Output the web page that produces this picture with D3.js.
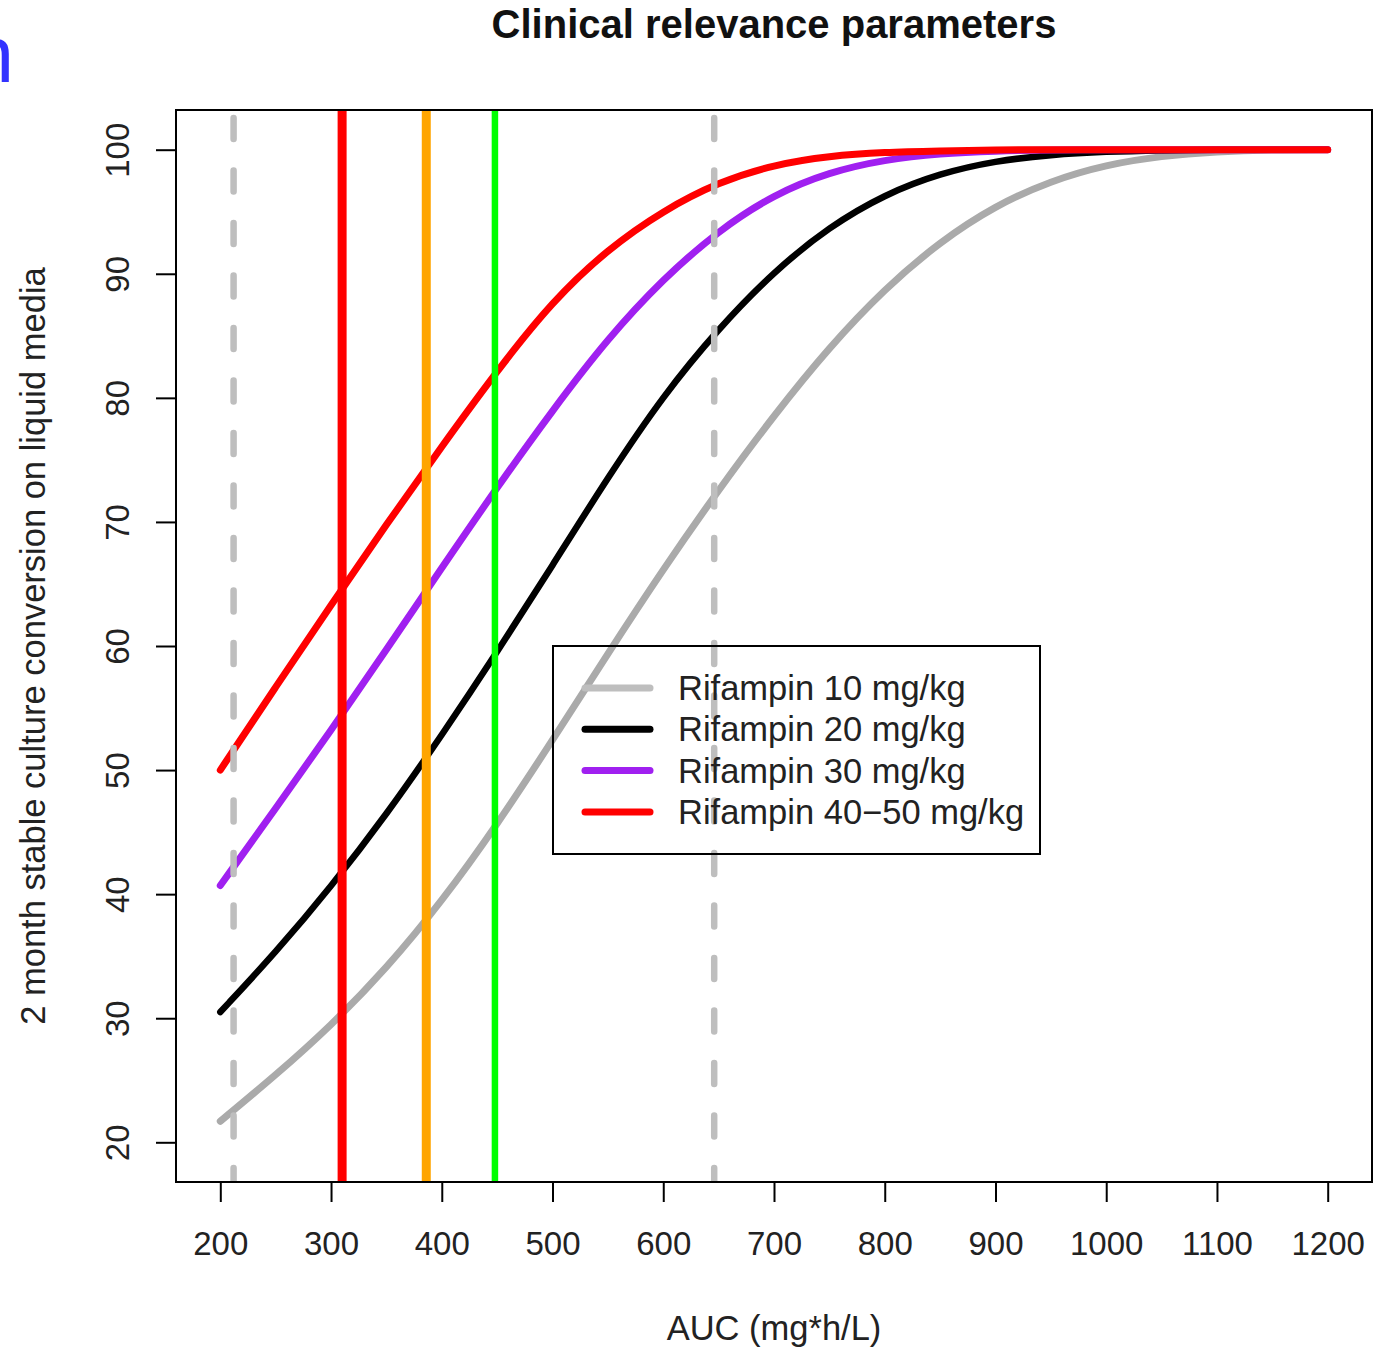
<!DOCTYPE html>
<html>
<head>
<meta charset="utf-8">
<script src="https://cdn.jsdelivr.net/npm/d3@7"></script>
<style>
  body { margin: 0; background: #fff; }
  svg { display: block; font-family: "Liberation Sans", Arial, sans-serif; }
</style>
</head>
<body>
<svg id="chart" width="1399" height="1349"></svg>
<script>
// data
var auc = [200, 250, 300, 350, 400, 450, 500, 550, 600, 650, 700, 750, 800, 850, 900, 950, 1000, 1050, 1100, 1150, 1200];
var rif10 = [21.7, 25.4, 29.4, 34.0, 39.4, 45.6, 52.4, 59.4, 66.2, 72.6, 78.6, 84.1, 88.8, 92.6, 95.5, 97.5, 98.8, 99.5, 99.85, 100, 100];
var rif20 = [30.5, 35.3, 40.6, 46.4, 52.8, 59.5, 66.5, 73.6, 80.2, 85.6, 90.2, 93.8, 96.4, 98.1, 99.1, 99.6, 99.85, 99.95, 100, 100, 100];
var rif30 = [40.7, 46.9, 53.2, 59.7, 66.3, 72.8, 79.0, 84.8, 89.6, 93.5, 96.4, 98.2, 99.2, 99.7, 99.9, 100, 100, 100, 100, 100, 100];
var rif4050 = [50.0, 56.7, 63.3, 69.8, 76.1, 82.2, 87.8, 92.0, 95.1, 97.4, 98.8, 99.5, 99.8, 99.9, 100, 100, 100, 100, 100, 100, 100];
var seriesNames = ["Rifampin 10 mg/kg", "Rifampin 20 mg/kg", "Rifampin 30 mg/kg", "Rifampin 40\u221250 mg/kg"];
var dashedAuc = [212, 646];
var solidAuc = [310, 386, 448];
var xTicks = [200, 300, 400, 500, 600, 700, 800, 900, 1000, 1100, 1200];
var yTicks = [20, 30, 40, 50, 60, 70, 80, 90, 100];

var svg = d3.select("#chart");
var plot = { left: 176, right: 1372, top: 110, bottom: 1182 };

// R style 4% padding around xlim / ylim
var x = d3.scaleLinear().domain([160, 1240]).range([plot.left, plot.right]);
var y = d3.scaleLinear().domain([16.8, 103.2]).range([plot.bottom, plot.top]);

var curveColors = ["#aaaaaa", "#000000", "#a020f0", "#ff0000"];
var legendColors = ["#bebebe", "#000000", "#a020f0", "#ff0000"];
var solidColors = ["#ff0000", "#ffa500", "#00ff00"];
var solidWidths = [9, 9, 6.5];

// stray blue glyph at the top left edge
svg.append("text")
    .attr("x", 14).attr("y", 82)
    .attr("text-anchor", "end")
    .attr("font-size", 80)
    .attr("fill", "#3333ff")
    .text("n");

svg.append("text")
    .attr("x", (plot.left + plot.right) / 2).attr("y", 38)
    .attr("text-anchor", "middle")
    .attr("font-size", 40)
    .attr("font-weight", "bold")
    .attr("fill", "#111")
    .text("Clinical relevance parameters");

svg.append("clipPath").attr("id", "plotClip")
    .append("rect")
    .attr("x", plot.left).attr("y", plot.top)
    .attr("width", plot.right - plot.left).attr("height", plot.bottom - plot.top);

var g = svg.append("g").attr("clip-path", "url(#plotClip)");

var line = d3.line()
    .x(function (d) { return x(d[0]); })
    .y(function (d) { return y(d[1]); })
    .curve(d3.curveBasis);

[rif10, rif20, rif30, rif4050].forEach(function (vals, i) {
    g.append("path")
        .attr("d", line(auc.map(function (a, j) { return [a, vals[j]]; })))
        .attr("fill", "none")
        .attr("stroke", curveColors[i])
        .attr("stroke-width", i == 1 ? 6.5 : 7)
        .attr("stroke-linecap", "round")
        .attr("stroke-linejoin", "round");
});

// dashed reference lines
dashedAuc.forEach(function (a) {
    g.append("line")
        .attr("x1", x(a)).attr("x2", x(a))
        .attr("y1", plot.top + 8).attr("y2", plot.bottom)
        .attr("stroke", "#bebebe")
        .attr("stroke-width", 6.5)
        .attr("stroke-dasharray", "21,31.5")
        .attr("stroke-linecap", "round");
});

solidAuc.forEach(function (a, i) {
    g.append("line")
        .attr("x1", x(a)).attr("x2", x(a))
        .attr("y1", plot.top).attr("y2", plot.bottom)
        .attr("stroke", solidColors[i])
        .attr("stroke-width", solidWidths[i]);
});

// box
svg.append("rect")
    .attr("x", plot.left).attr("y", plot.top)
    .attr("width", plot.right - plot.left).attr("height", plot.bottom - plot.top)
    .attr("fill", "none").attr("stroke", "#000").attr("stroke-width", 2);

// axes
var xAxis = d3.axisBottom(x).tickValues(xTicks).tickFormat(d3.format("d"))
    .tickSize(20).tickPadding(30).tickSizeOuter(0);
var xg = svg.append("g").attr("transform", "translate(0," + plot.bottom + ")").call(xAxis);
xg.select(".domain").attr("d", "M" + x(200) + ",0H" + x(1200)).attr("stroke-width", 2);
xg.selectAll(".tick line").attr("stroke-width", 2);
xg.selectAll("text").attr("font-size", 33).attr("fill", "#222").attr("font-family", "Liberation Sans, Arial, sans-serif");

var yAxis = d3.axisLeft(y).tickValues(yTicks).tickSize(20).tickSizeOuter(0);
var yg = svg.append("g").attr("transform", "translate(" + plot.left + ",0)").call(yAxis);
yg.select(".domain").attr("d", "M0," + y(20) + "V" + y(100)).attr("stroke-width", 2);
yg.selectAll(".tick line").attr("stroke-width", 2);
yg.selectAll("text")
    .attr("x", null).attr("dy", null)
    .attr("text-anchor", "middle")
    .attr("transform", "translate(-47,0) rotate(-90)")
    .attr("font-size", 33).attr("fill", "#222")
    .attr("font-family", "Liberation Sans, Arial, sans-serif");

svg.append("text")
    .attr("x", (plot.left + plot.right) / 2).attr("y", 1340)
    .attr("text-anchor", "middle")
    .attr("font-size", 34.5).attr("fill", "#222")
    .text("AUC (mg*h/L)");

svg.append("text")
    .attr("transform", "translate(45," + (plot.top + plot.bottom) / 2 + ") rotate(-90)")
    .attr("text-anchor", "middle")
    .attr("font-size", 34.5).attr("fill", "#222")
    .text("2 month stable culture conversion on liquid media");

// legend, no background like R default
var leg = svg.append("g").attr("transform", "translate(553,646)");
leg.append("rect")
    .attr("width", 487).attr("height", 208)
    .attr("fill", "none").attr("stroke", "#000").attr("stroke-width", 2);
seriesNames.forEach(function (name, i) {
    var cy = 42 + i * 41.3;
    leg.append("line")
        .attr("x1", 32).attr("x2", 97).attr("y1", cy).attr("y2", cy)
        .attr("stroke", legendColors[i]).attr("stroke-width", 7)
        .attr("stroke-linecap", "round");
    leg.append("text")
        .attr("x", 125).attr("y", cy + 12)
        .attr("font-size", 34.5).attr("fill", "#222")
        .text(name);
});
</script>
</body>
</html>
